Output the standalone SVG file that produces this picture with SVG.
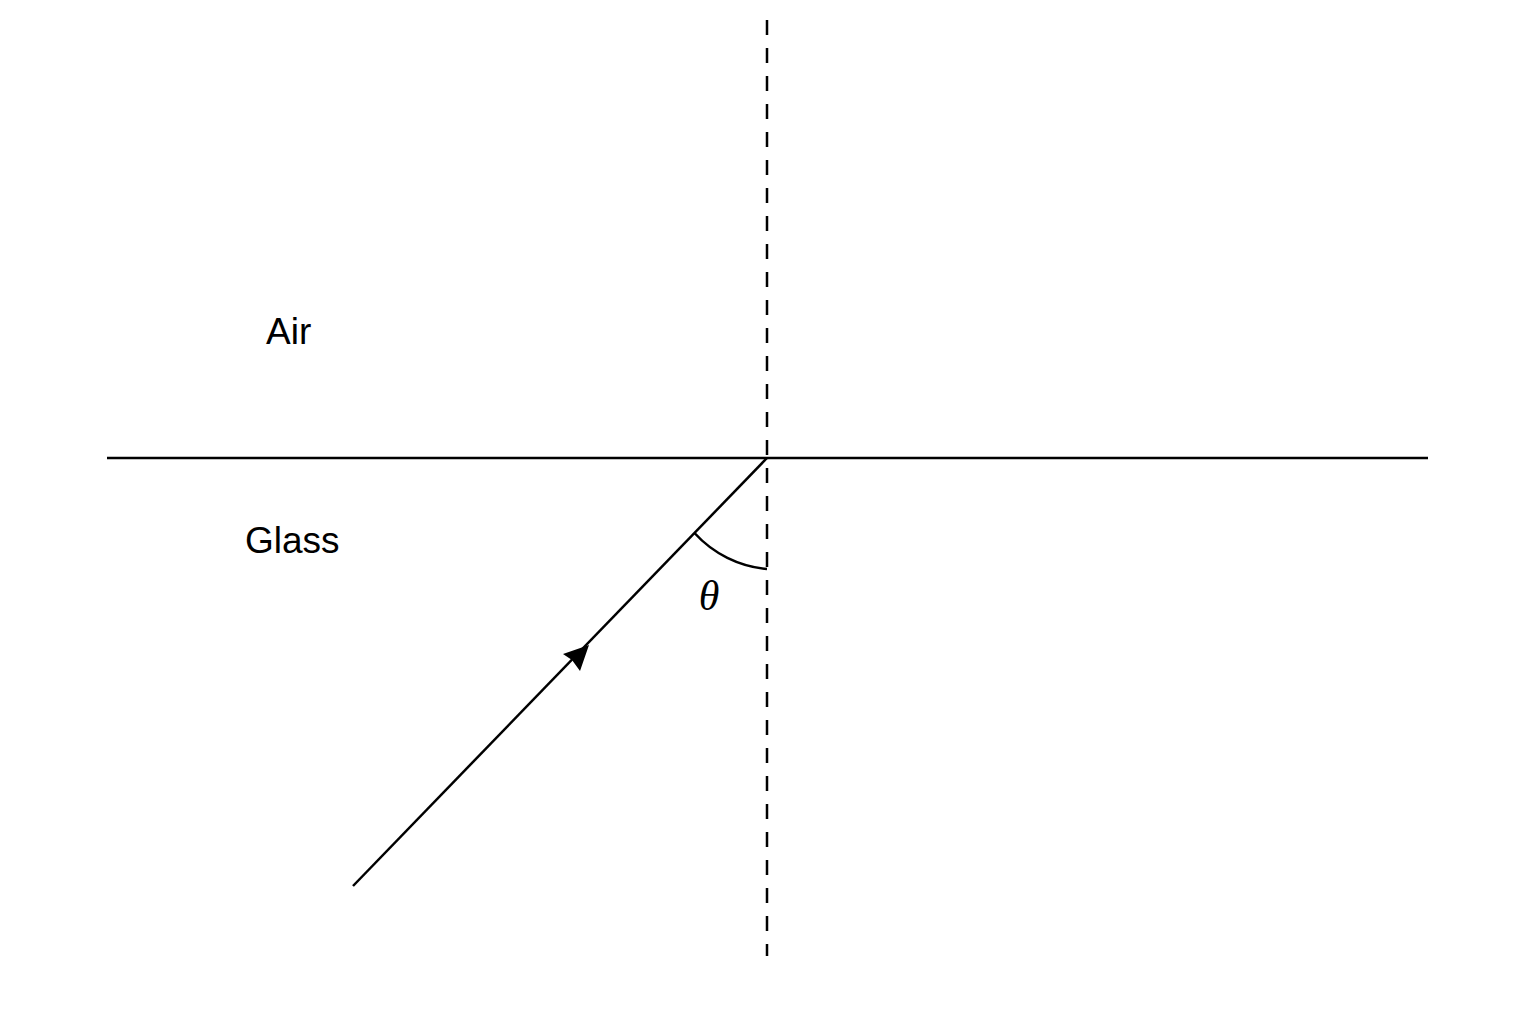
<svg xmlns="http://www.w3.org/2000/svg" width="1536" height="1024" viewBox="0 0 1536 1024">
<style>
.ln{stroke:#000;stroke-width:2.5;fill:none}
.lbl{font-family:"Liberation Sans",Arial,sans-serif;font-size:37px;fill:#000}
</style>
<rect width="1536" height="1024" fill="#fff"/>
<g id="connectors">
<line id="interface" class="ln" x1="107" y1="458" x2="1428" y2="458"/>
<line id="normal" class="ln" x1="767" y1="20" x2="767" y2="956" stroke-dasharray="15 13"/>
<line id="ray" class="ln" x1="353" y1="886" x2="767" y2="458"/>
<polygon id="arrowhead" points="589,645 563,654 572,660 580,671" fill="#000"/>
<path id="angle-arc" class="ln" d="M 694.5 533 A 111 111 0 0 0 767 569"/>
</g>
<g id="air"><text class="lbl" x="266" y="344">Air</text></g>
<g id="glass"><text class="lbl" x="245" y="553" font-size="38.5">Glass</text></g>
<g id="theta"><text x="709" y="610" text-anchor="middle" font-family="Liberation Serif,'Times New Roman',serif" font-style="italic" font-size="42">θ</text></g>
</svg>
